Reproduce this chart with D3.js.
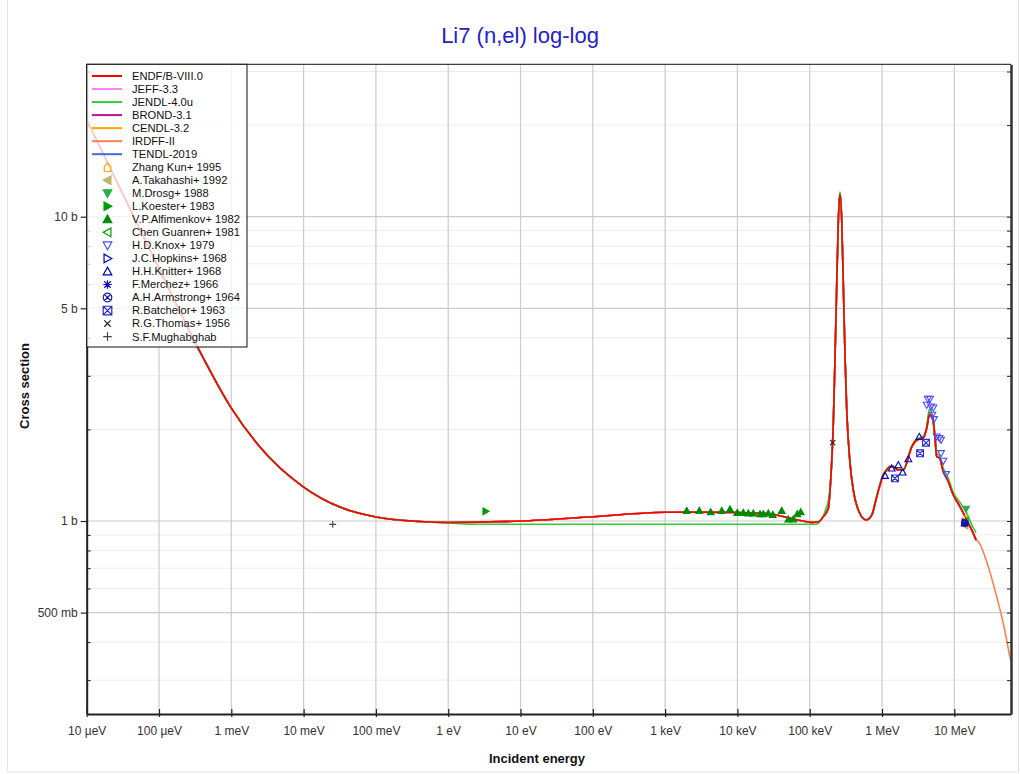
<!DOCTYPE html>
<html><head><meta charset="utf-8">
<script src="https://cdn.jsdelivr.net/npm/d3@7"></script>
<style>body{margin:0;background:#fff;} text{font-family:"Liberation Sans", Arial, Helvetica, sans-serif;}</style>
</head><body><svg id="c" width="1020" height="774"></svg>
<script>
// ---------- DATA ----------
const xTickValues = [1e-5,1e-4,1e-3,1e-2,1e-1,1,10,100,1e3,1e4,1e5,1e6,1e7];
const xTickLabels = ["10 µeV","100 µeV","1 meV","10 meV","100 meV","1 eV","10 eV","100 eV","1 keV","10 keV","100 keV","1 MeV","10 MeV"];
const yTickValues = [0.5,1,5,10];
const yTickLabels = ["500 mb","1 b","5 b","10 b"];
const yMinorValues = [0.3,0.4,0.6,0.7,0.8,0.9,2,3,4,6,7,8,9,20,30];

const endfE = [1e-5,2.89e-5,1e-4,3.47e-4,1e-3,2.49e-3,1e-2,3.18e-2,0.1,0.407,1,10,100,1000,3000,1e4,2.56e4,4.55e4,7.34e4,1.07e5,1.315e5,1.54e5,1.81e5,1.91e5,2.01e5,2.12e5,2.24e5,2.36e5,2.49e5,2.62e5,2.77e5,2.92e5,3.08e5,3.25e5,3.61e5,4.01e5,4.70e5,6.01e5,7.21e5,8.45e5,1.04e6,1.16e6,1.29e6,1.43e6,1.68e6,1.97e6,2.58e6,3.02e6,3.73e6,4.15e6,4.51e6,4.72e6,5.03e6,5.41e6,5.71e6,6.21e6,7.05e6,8.27e6,9.69e6,1.2e7,1.41e7,1.83e7,2e7];
const endfS = [20.8,12.4,6.76,3.70,2.35,1.751,1.293,1.111,1.031,0.996,0.989,1.0,1.033,1.068,1.07,1.066,1.058,1.031,1.004,0.990,0.995,1.033,1.101,1.264,1.547,2.094,3.467,5.888,9.75,11.9,9.75,5.89,3.47,2.317,1.547,1.264,1.087,1.008,1.046,1.202,1.416,1.471,1.508,1.508,1.471,1.471,1.754,1.846,1.878,2.017,2.231,2.24,2.175,1.870,1.627,1.615,1.452,1.346,1.218,1.114,1.033,0.911,0.866];

const jendlE = [1e-5,2.89e-5,1e-4,3.47e-4,1e-3,2.49e-3,1e-2,3.18e-2,0.1,0.407,1,2,1e5,1.22e5,1.69e5,1.91e5,2.01e5,2.12e5,2.24e5,2.36e5,2.49e5,2.62e5,2.77e5,2.92e5,3.08e5,3.25e5,3.61e5,4.01e5,4.70e5,6.01e5,7.21e5,8.45e5,1.04e6,1.16e6,1.29e6,1.43e6,1.68e6,1.97e6,2.58e6,3.02e6,3.73e6,4.15e6,4.51e6,4.72e6,5.03e6,5.41e6,5.71e6,6.21e6,7.05e6,8.27e6,9.69e6,1.2e7,1.41e7,1.83e7,2e7];
const jendlS = [20.8,12.4,6.76,3.70,2.35,1.751,1.293,1.111,1.031,0.996,0.985,0.976,0.976,0.976,1.103,1.27,1.56,2.11,3.5,5.95,9.85,12.07,9.85,5.95,3.5,2.33,1.56,1.27,1.09,1.008,1.05,1.21,1.425,1.48,1.515,1.515,1.48,1.48,1.77,1.86,1.9,2.05,2.334,2.30,2.22,1.92,1.669,1.64,1.49,1.38,1.24,1.15,1.087,0.95,0.915];

const irdffTailE = [2.15e7,2.95e7,3.86e7,4.76e7,5.89e7,6.08e7];
const irdffTailS = [0.855,0.708,0.564,0.461,0.358,0.347];

const zhangE = [1.43e7], zhangS = [1.015];
const takahashiE = [1.41e7], takahashiS = [0.965];
const drosgE = [1.45e7], drosgS = [1.095];
const koesterE = [3.3], koesterS = [1.076];
const alfimenkovE = [1990,2972,4270,6070,7890,9960,12050,14150,16600,20550,22800,26750,30760,41000,50600,59300,67400,75100];
const alfimenkovS = [1.081,1.081,1.070,1.081,1.093,1.065,1.065,1.060,1.060,1.054,1.054,1.060,1.049,1.081,1.013,1.013,1.054,1.070];
const chenE = [1.42e7], chenS = [1.0];
const knoxE = [4.29e6,4.61e6,4.15e6,4.76e6,5.13e6,4.97e6,5.24e6,5.71e6,6.21e6,6.55e6,6.55e6,7.05e6,7.68e6];
const knoxS = [2.517,2.517,2.405,2.375,2.356,2.231,2.159,1.892,1.870,1.846,1.669,1.575,1.424];
const hopkinsE = [1.40e7], hopkinsS = [0.99];
const knitterE = [1.10e6,1.36e6,1.68e6,1.93e6,2.31e6,3.28e6,1.39e7];
const knitterS = [1.409,1.490,1.528,1.446,1.599,1.892,0.985];
const merchezE = [1.41e7], merchezS = [0.98];
const armstrongE = [1.40e7], armstrongS = [0.985];
const batchelorE = [1.51e6,3.36e6,4.06e6];
const batchelorS = [1.381,1.669,1.808];
const thomasE = [2.08e5], thomasS = [1.809];
const mughabghabE = [0.0253], mughabghabS = [0.975];

// ---------- LAYOUT ----------
const svg = d3.select("#c");
const L = 86.7, R = 1011, T = 64.3, B = 714;
const x = d3.scaleLog().domain([1e-5, 6.08e7]).range([L, R]);
const y = d3.scaleLog().domain([0.2322, 31.68]).range([B, T]);

svg.append("rect").attr("x",7.5).attr("y",-2).attr("width",1011).attr("height",774)
  .attr("fill","none").attr("stroke","#e4e4e4");

// grid
const grid = svg.append("g");
grid.selectAll(".hm").data(yMinorValues).join("line")
  .attr("x1",L).attr("x2",R).attr("y1",d=>y(d)).attr("y2",d=>y(d))
  .attr("stroke","#ececec").attr("stroke-width",1);
grid.selectAll(".hM").data(yTickValues).join("line")
  .attr("x1",L).attr("x2",R).attr("y1",d=>y(d)).attr("y2",d=>y(d))
  .attr("stroke","#cccccc").attr("stroke-width",1.2);
grid.selectAll(".v").data(xTickValues).join("line")
  .attr("x1",d=>x(d)).attr("x2",d=>x(d)).attr("y1",T).attr("y2",B)
  .attr("stroke","#cccccc").attr("stroke-width",1.2);

// clip
svg.append("clipPath").attr("id","clip").append("rect")
  .attr("x",L).attr("y",T).attr("width",R-L).attr("height",B-T);

const plot = svg.append("g").attr("clip-path","url(#clip)");
const line = d3.line().x(d=>x(d[0])).y(d=>y(d[1])).curve(d3.curveMonotoneX);
const zip = (E,S)=>E.map((e,i)=>[e,S[i]]);

const libs = [
  {name:"JEFF-3.3", color:"#ff80ff", E:endfE, S:endfS},
  {name:"BROND-3.1", color:"#c0108f", E:endfE, S:endfS},
  {name:"CENDL-3.2", color:"#ffa500", E:endfE, S:endfS},
  {name:"TENDL-2019", color:"#4169e1", E:endfE, S:endfS},
  {name:"IRDFF-II", color:"#ff7f50", E:endfE.concat(irdffTailE), S:endfS.concat(irdffTailS)},
  {name:"JENDL-4.0u", color:"#33cc33", E:jendlE, S:jendlS},
  {name:"ENDF/B-VIII.0", color:"#ff0000", E:endfE, S:endfS}
];
libs.forEach(l=>{
  plot.append("path").datum(zip(l.E,l.S)).attr("d",line)
    .attr("fill","none").attr("stroke",l.color).attr("stroke-width",1.6);
});

// markers
function mpath(type, s){
  const t = s*0.75;
  switch(type){
    case "up": return `M0,${-s}L${s},${s*0.8}L${-s},${s*0.8}Z`;
    case "down": return `M0,${s}L${s},${-s*0.8}L${-s},${-s*0.8}Z`;
    case "left": return `M${-s},0L${s*0.8},${-s}L${s*0.8},${s}Z`;
    case "right": return `M${s},0L${-s*0.8},${-s}L${-s*0.8},${s}Z`;
    case "house": return `M${-s*0.75},${s}L${s*0.75},${s}L${s*0.75},${-s*0.15}L0,${-s}L${-s*0.75},${-s*0.15}Z`;
    case "plus": return `M${-s},0L${s},0M0,${-s}L0,${s}`;
    case "times": return `M${-t},${-t}L${t},${t}M${-t},${t}L${t},${-t}`;
    case "asterisk": return `M${-s},0L${s},0M0,${-s}L0,${s}M${-t},${-t}L${t},${t}M${-t},${t}L${t},${-t}`;
    case "circlex": { const k=s*0.7; return `M${s},0A${s},${s} 0 1,1 ${-s},0A${s},${s} 0 1,1 ${s},0M${-k},${-k}L${k},${k}M${-k},${k}L${k},${-k}`; }
    case "squarex": return `M${-s},${-s}H${s}V${s}H${-s}ZM${-s},${-s}L${s},${s}M${-s},${s}L${s},${-s}`;
  }
}
const sets = [
  {name:"Zhang Kun+ 1995", color:"#ffa500", type:"house", fill:false, E:zhangE, S:zhangS},
  {name:"A.Takahashi+ 1992", color:"#bdb76b", type:"left", fill:true, E:takahashiE, S:takahashiS},
  {name:"M.Drosg+ 1988", color:"#22b14c", type:"down", fill:true, E:drosgE, S:drosgS},
  {name:"L.Koester+ 1983", color:"#009a00", type:"right", fill:true, E:koesterE, S:koesterS},
  {name:"V.P.Alfimenkov+ 1982", color:"#008a00", type:"up", fill:true, E:alfimenkovE, S:alfimenkovS},
  {name:"Chen Guanren+ 1981", color:"#00a000", type:"left", fill:false, E:chenE, S:chenS},
  {name:"H.D.Knox+ 1979", color:"#4a4aff", type:"down", fill:false, E:knoxE, S:knoxS},
  {name:"J.C.Hopkins+ 1968", color:"#0000cc", type:"right", fill:false, E:hopkinsE, S:hopkinsS},
  {name:"H.H.Knitter+ 1968", color:"#0000b0", type:"up", fill:false, E:knitterE, S:knitterS},
  {name:"F.Merchez+ 1966", color:"#1010c0", type:"asterisk", fill:false, E:merchezE, S:merchezS},
  {name:"A.H.Armstrong+ 1964", color:"#1a1aa0", type:"circlex", fill:false, E:armstrongE, S:armstrongS},
  {name:"R.Batchelor+ 1963", color:"#2a2ac8", type:"squarex", fill:false, E:batchelorE, S:batchelorS},
  {name:"R.G.Thomas+ 1956", color:"#222222", type:"times", fill:false, E:thomasE, S:thomasS},
  {name:"S.F.Mughabghab", color:"#444444", type:"plus", fill:false, E:mughabghabE, S:mughabghabS}
];
const mk = svg.append("g").attr("clip-path","url(#clip)");
sets.forEach(s=>{
  mk.selectAll(null).data(zip(s.E,s.S)).join("path")
    .attr("transform",d=>`translate(${x(d[0])},${y(d[1])})`)
    .attr("d",mpath(s.type,3.4))
    .attr("fill",s.fill?s.color:"none").attr("stroke",s.color).attr("stroke-width",1.1);
});

// axes
const fmtX = (d)=>xTickLabels[xTickValues.indexOf(d)];
const fmtY = (d)=>yTickLabels[yTickValues.indexOf(d)];
const ax = svg.append("g").attr("transform",`translate(0,${B})`)
  .call(d3.axisBottom(x).tickValues(xTickValues).tickFormat(fmtX).tickSizeInner(3).tickSizeOuter(0).tickPadding(9));
ax.selectAll(".tick line").attr("y1",-5).attr("y2",3).attr("stroke","#222").attr("stroke-width",1.2);
ax.select(".domain").attr("stroke","#222").attr("stroke-width",2);
ax.selectAll("text").attr("font-size",12).attr("fill","#333").attr("font-family","Liberation Sans, Arial, sans-serif");

const ay = svg.append("g").attr("transform",`translate(${L},0)`)
  .call(d3.axisLeft(y).tickValues(yTickValues).tickFormat(fmtY).tickSizeInner(6).tickSizeOuter(0).tickPadding(3));
ay.select(".domain").attr("stroke","#222").attr("stroke-width",2);
ay.selectAll(".tick line").attr("stroke","#222").attr("stroke-width",1.2);
ay.selectAll("text").attr("font-size",12).attr("fill","#333").attr("font-family","Liberation Sans, Arial, sans-serif");
const ayMinor = svg.append("g").attr("transform",`translate(${L},0)`)
  .call(d3.axisLeft(y).tickValues(yMinorValues).tickFormat("").tickSizeInner(-4).tickSizeOuter(0));
ayMinor.select(".domain").remove();
ayMinor.selectAll(".tick line").attr("stroke","#222");

const ar = svg.append("g").attr("transform",`translate(${R},0)`)
  .call(d3.axisRight(y).tickValues(yTickValues.concat(yMinorValues)).tickFormat("").tickSizeInner(-4).tickSizeOuter(0));
ar.select(".domain").attr("stroke","#333").attr("stroke-width",2.5);
ar.selectAll(".tick line").attr("stroke","#222");

svg.append("line").attr("x1",L).attr("x2",R).attr("y1",T).attr("y2",T).attr("stroke","#111").attr("stroke-width",1);

// title & labels
svg.append("text").attr("x",520).attr("y",43).attr("text-anchor","middle")
  .attr("font-size",22).attr("fill","#2222cc").text("Li7 (n,el) log-log");
svg.append("text").attr("x",537).attr("y",763).attr("text-anchor","middle")
  .attr("font-size",13).attr("font-weight","bold").attr("fill","#111").text("Incident energy");
svg.append("text").attr("transform","translate(29,386) rotate(-90)").attr("text-anchor","middle")
  .attr("font-size",13).attr("font-weight","bold").attr("fill","#111").text("Cross section");

// legend
const lg = svg.append("g");
lg.append("rect").attr("x",L).attr("y",T).attr("width",247-L).attr("height",347-T)
  .attr("fill","#fff").attr("fill-opacity",0.78).attr("stroke","#111").attr("stroke-width",1);
const legLines = [libs[6],libs[0],libs[5],libs[1],libs[2],libs[4],libs[3]];
const rowY = i => 76 + i*13.03;
legLines.forEach((l,i)=>{
  lg.append("line").attr("x1",92).attr("x2",122).attr("y1",rowY(i)).attr("y2",rowY(i))
    .attr("stroke",l.color).attr("stroke-width",2);
  lg.append("text").attr("x",132).attr("y",rowY(i)).attr("dy","0.35em")
    .attr("font-size",11.2).attr("fill","#111").text(l.name);
});
sets.forEach((s,j)=>{
  const i = j+7;
  lg.append("path").attr("transform",`translate(107.5,${rowY(i)})`).attr("d",mpath(s.type,4.3))
    .attr("fill",s.fill?s.color:"none").attr("stroke",s.color).attr("stroke-width",1.2);
  lg.append("text").attr("x",132).attr("y",rowY(i)).attr("dy","0.35em")
    .attr("font-size",11.2).attr("fill","#111").text(s.name);
});
</script></body></html>
